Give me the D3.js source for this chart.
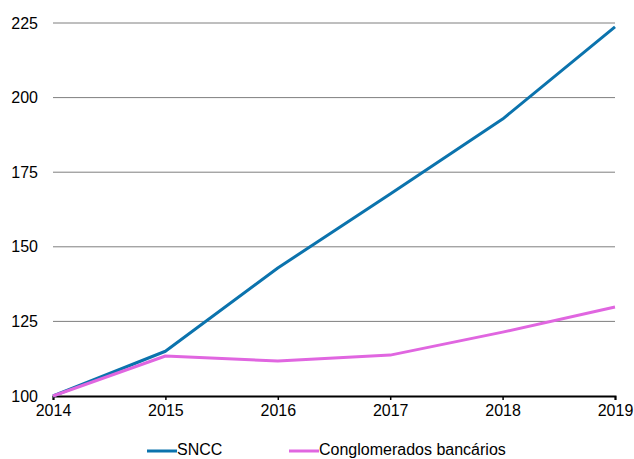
<!DOCTYPE html>
<html><head><meta charset="utf-8">
<script src="https://cdn.jsdelivr.net/npm/d3@7"></script>
<style>body{margin:0;background:#fff;} text{font-family:"Liberation Sans",Arial,sans-serif;}</style>
</head><body><svg id="c" width="634" height="459"></svg>
<script>
const years = [2014, 2015, 2016, 2017, 2018, 2019];
const sncc = [100, 115, 142.9, 167.7, 192.8, 223.7];
const conglomerados = [100, 113.4, 111.7, 113.7, 121.4, 129.8];
const yTicks = [100, 125, 150, 175, 200, 225];
const seriesNames = ["SNCC", "Conglomerados bancários"];
const colors = ["#0b73ad", "#e066e0"];

const svg = d3.select("#c");
const L = 53, R = 615, T = 23, B = 396;
const x = d3.scaleLinear().domain([2014, 2019]).range([L, R]);
const y = d3.scaleLinear().domain([100, 225]).range([B, T]);

// gridlines
svg.append("g").selectAll("line").data(yTicks.filter(d => d > 100)).join("line")
  .attr("x1", L).attr("x2", R).attr("y1", d => y(d)).attr("y2", d => y(d))
  .attr("stroke", "#7f7f7f").attr("stroke-width", 1);

// y labels
svg.append("g").selectAll("text").data(yTicks).join("text")
  .attr("x", 38).attr("y", d => y(d)).attr("dy", "0.35em")
  .attr("text-anchor", "end").attr("font-size", 16).attr("fill", "#000")
  .text(d => d);

// x axis
const xAxis = d3.axisBottom(x).tickValues(years).tickFormat(d3.format("d")).tickSize(4).tickPadding(5);
const gx = svg.append("g").attr("transform", `translate(0,${B})`).call(xAxis);
gx.select(".domain").attr("stroke", "#000").attr("stroke-width", 2);
gx.selectAll(".tick line").attr("stroke", "#000").attr("stroke-width", 1.5);
gx.selectAll(".tick text").attr("font-size", 16).attr("fill", "#000")
  .attr("font-family", "Liberation Sans, Arial, sans-serif");

// lines
const line = d3.line().x((d, i) => x(years[i])).y(d => y(d));
[sncc, conglomerados].forEach((s, i) => {
  svg.append("path").datum(s).attr("d", line).attr("fill", "none")
    .attr("stroke", colors[i]).attr("stroke-width", 3).attr("stroke-linejoin", "round");
});
// legend
const leg = [{x: 147}, {x: 289}];
seriesNames.forEach((n, i) => {
  const g = svg.append("g");
  g.append("line").attr("x1", leg[i].x).attr("x2", leg[i].x + 30).attr("y1", 451).attr("y2", 451)
    .attr("stroke", colors[i]).attr("stroke-width", 3);
  g.append("text").attr("x", leg[i].x + 30).attr("y", 449).attr("dy", "0.35em")
    .attr("font-size", 16).attr("fill", "#000").text(n);
});
</script></body></html>
